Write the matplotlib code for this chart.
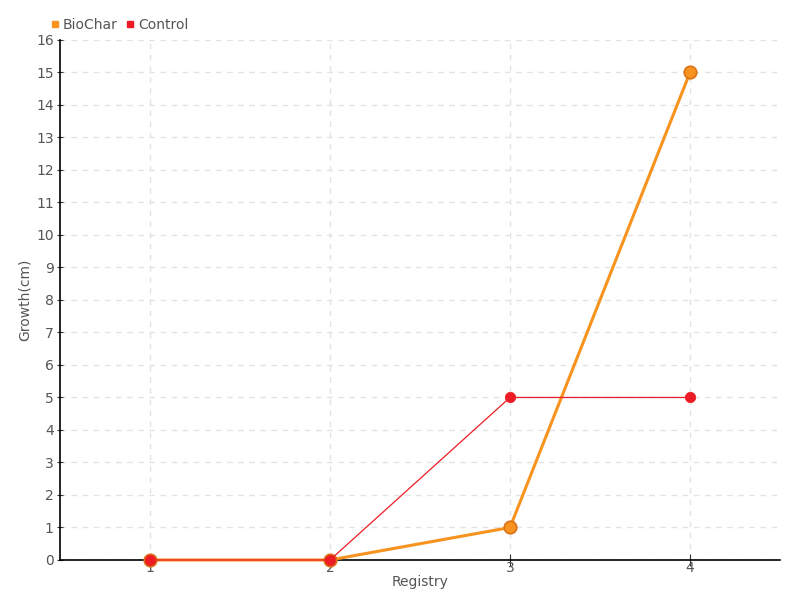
import numpy as np
import matplotlib
matplotlib.use("Agg")
from matplotlib import pyplot as plt

registry = [1, 2, 3, 4]
biochar = [0, 0, 1, 15]
control = [0, 0, 5, 5]
yticks = list(range(0, 17))

plt.rcParams['font.family'] = ['DejaVu Sans']
txt = '#555555'

fig = plt.figure(figsize=(8, 6), dpi=100)
ax = fig.add_axes([0.075, 0.0667, 0.9, 0.8667])

ax.plot(registry, biochar, color='#f7931e', lw=2.2, marker='o', ms=9,
        mfc='#f7931e', mec='#d9731a', mew=1.2, label='BioChar', zorder=3, clip_on=False)
ax.plot(registry, control, color='#ed1c24', lw=0.9, marker='o', ms=7.5,
        mfc='#ed1c24', mec='#ed1c24', mew=0.5, label='Control', zorder=4, clip_on=False)

ax.set_xlim(0.5, 4.5)
ax.set_ylim(0, 16)
ax.set_xticks(registry)
ax.set_yticks(yticks)
ax.grid(True, color='#e3e3e3', ls=(0, (4, 4)), lw=1)
ax.set_axisbelow(True)
for s in ['top', 'right']:
    ax.spines[s].set_visible(False)
for s in ['left', 'bottom']:
    ax.spines[s].set_color('black')
    ax.spines[s].set_linewidth(1.2)
ax.tick_params(axis='y', direction='inout', length=5, colors='#333333', labelcolor=txt, labelsize=10, pad=2)
ax.tick_params(axis='x', direction='inout', length=8, colors='#333333', labelcolor=txt, labelsize=10, pad=-3)
ax.set_xlabel('Registry', color=txt, fontsize=10, labelpad=0)
ax.set_ylabel('Growth(cm)', color=txt, fontsize=10, labelpad=3)

ax.legend(loc='lower left', bbox_to_anchor=(-0.025, 1.0), ncol=2, frameon=False,
          fontsize=10, handlelength=0.6, handletextpad=0.3, columnspacing=0.6,
          labelcolor=txt, borderaxespad=0.2,
          handles=[plt.Line2D([], [], ls='', marker='s', ms=5, color='#f7931e'),
                   plt.Line2D([], [], ls='', marker='s', ms=5, color='#ed1c24')],
          labels=['BioChar', 'Control'])

fig.savefig('out.png', dpi=100)
